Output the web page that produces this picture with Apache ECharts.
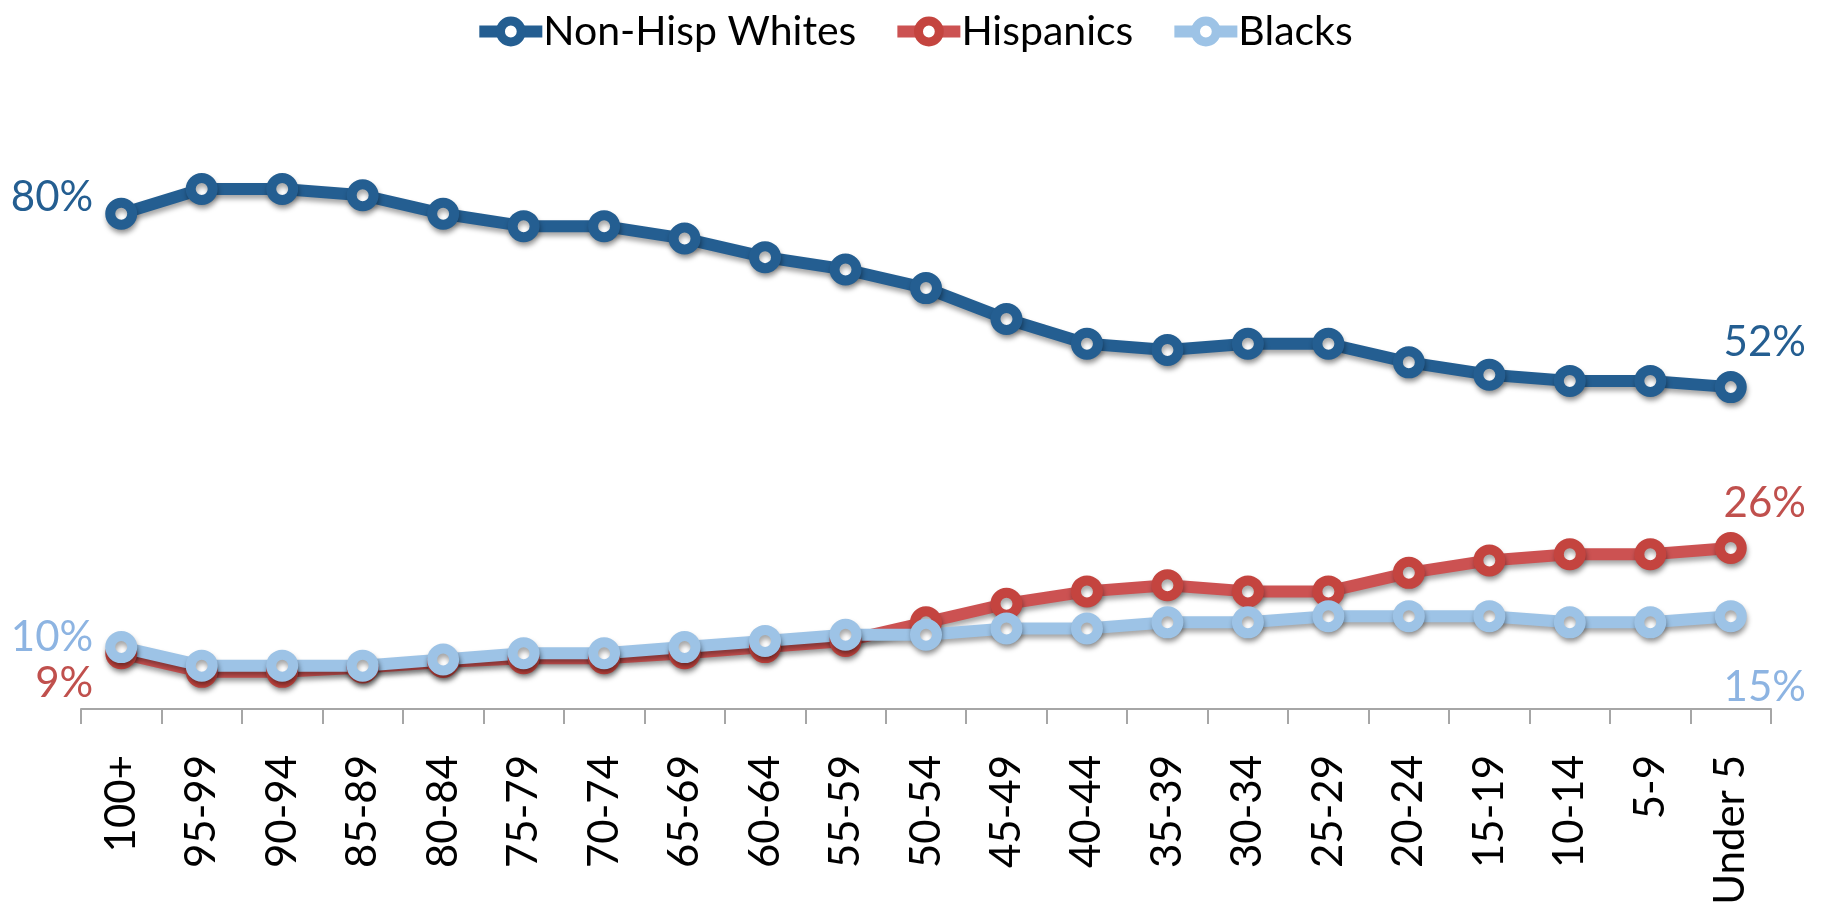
<!DOCTYPE html>
<html>
<head>
<meta charset="utf-8">
<script src="https://cdn.jsdelivr.net/npm/echarts@6/dist/echarts.min.js"></script>
<style>html,body{margin:0;padding:0;background:#fff;}#chart{width:1826px;height:919px;}</style>
</head>
<body>
<div id="chart"></div>
<script>
const categories = ['100+','95-99','90-94','85-89','80-84','75-79','70-74','65-69','60-64','55-59','50-54','45-49','40-44','35-39','30-34','25-29','20-24','15-19','10-14','5-9','Under 5'];
const whites = [80,84,84,83,80,78,78,76,73,71,68,63,59,58,59,59,56,54,53,53,52];
const hispanics = [9,6,6,6.7,7.6,8.2,8.2,9,10,11,14,17,19,20,19,19,22,24,25,25,26];
const blacks = [10,7,7,7,8,9,9,10,11,12,12,13,13,14,14,15,15,15,14,14,15];
const seriesNames = ['Non-Hisp Whites','Hispanics','Blacks'];

const FONT = 'Lato';
const shadow = {shadowColor:'rgba(0,0,0,0.35)', shadowBlur:5, shadowOffsetX:1, shadowOffsetY:4};

function buildData(values, labelColor, startLabel, endLabel) {
  return values.map(function (v, i) {
    const item = {value: v};
    let lab = null;
    if (i === 0 && startLabel) lab = startLabel;
    if (i === values.length - 1 && endLabel) lab = endLabel;
    if (lab) {
      item.label = Object.assign({
        show: true,
        formatter: Math.round(v) + '%',
        color: labelColor,
        fontFamily: FONT,
        fontSize: 42
      }, lab);
    }
    return item;
  });
}

function makeSeries(name, values, lineColor, markerColor, labelColor, startLabel, endLabel) {
  return {
    name: name,
    type: 'line',
    data: buildData(values, labelColor, startLabel, endLabel),
    symbol: 'circle',
    symbolSize: 22,
    showAllSymbol: true,
    lineStyle: Object.assign({color: lineColor, width: 12}, shadow),
    itemStyle: Object.assign({color: '#ffffff', borderColor: markerColor, borderWidth: 10}, shadow),
    emphasis: {disabled: true},
    animation: false
  };
}

const chart = echarts.init(document.getElementById('chart'));
chart.setOption({
  backgroundColor: '#ffffff',
  animation: false,
  legend: {
    top: 6,
    left: 'center',
    itemWidth: 63,
    itemHeight: 26,
    itemGap: 35,
    itemStyle: {borderWidth: 9, shadowBlur: 0, shadowOffsetX: 0, shadowOffsetY: 0},
    lineStyle: {width: 12, shadowBlur: 0, shadowOffsetX: 0, shadowOffsetY: 0},
    textStyle: {fontFamily: FONT, fontSize: 41, color: '#000000', padding: [0,0,0,-4]},
    data: seriesNames
  },
  grid: {left: 81, right: 55, top: 90, bottom: 210, containLabel: false},
  xAxis: {
    type: 'category',
    data: categories,
    boundaryGap: true,
    axisLine: {lineStyle: {color: '#A6A6A6', width: 2}},
    axisTick: {show: true, length: 15, lineStyle: {color: '#A6A6A6', width: 2}},
    axisLabel: {rotate: 90, margin: 46, interval: 0, fontFamily: FONT, fontSize: 42, color: '#000000'}
  },
  yAxis: {
    type: 'value', min: 0, max: 100, show: false,
    splitLine: {show: false}
  },
  series: [
    makeSeries(seriesNames[0], whites, '#245E91', '#245E91', '#245E91',
      {position: 'left', distance: 12, offset: [0, -16]},
      {position: 'top', distance: 8, offset: [34, 0]}),
    makeSeries(seriesNames[1], hispanics, '#CC5252', '#C4443F', '#C0504D',
      {position: 'left', distance: 12, offset: [0, 30]},
      {position: 'top', distance: 8, offset: [34, 0]}),
    makeSeries(seriesNames[2], blacks, '#9DC3E6', '#9DC3E6', '#8DB4E2',
      {position: 'left', distance: 12, offset: [0, -10]},
      {position: 'bottom', distance: 8, offset: [34, 26]})
  ]
});
</script>
</body>
</html>
